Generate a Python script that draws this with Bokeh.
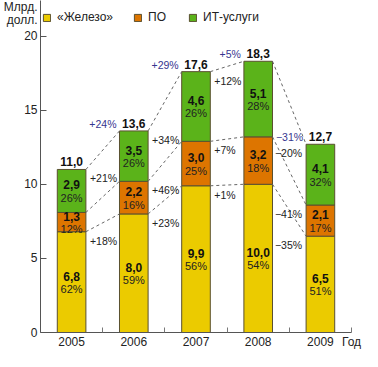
from bokeh.plotting import figure
from bokeh.models import ColumnDataSource, Range1d, FixedTicker, Legend, LegendItem
from bokeh.core.properties import value
from bokeh.embed import file_html
from bokeh.resources import INLINE

# ---- data ----
years = ["2005", "2006", "2007", "2008", "2009"]
hardware = [6.8, 8.0, 9.9, 10.0, 6.5]
software = [1.3, 2.2, 3.0, 3.2, 2.1]
it_services = [2.9, 3.5, 4.6, 5.1, 4.1]
totals = [11.0, 13.6, 17.6, 18.3, 12.7]
pct_hardware = [62, 59, 56, 54, 51]
pct_software = [12, 16, 25, 18, 17]
pct_it = [26, 26, 26, 28, 32]
# growth labels between consecutive years
growth_total = ["+24%", "+29%", "+5%", "\u221231%"]
growth_it = ["+21%", "+34%", "+12%", "\u221220%"]
growth_software = ["", "+46%", "+7%", "\u221241%"]
growth_hardware = ["+18%", "+23%", "+1%", "\u221235%"]
series_names = ["«Железо»", "ПО", "ИТ-услуги"]
y_ticks = [0, 5, 10, 15, 20]
unit_lines = ["Млрд.", "долл."]
x_axis_title = "Год"

# ---- styles ----
FONT = "Liberation Sans"
C_HW, C_PO, C_IT = "#EBCB00", "#DD7500", "#5BB31A"
EDGE = "#5a5030"
BLUE = "#363690"
W = 0.46
Y_END = 22.4
FRAME_H = 334  # expected frame height in px (351 - bottom border)
PX = Y_END / FRAME_H  # data units per pixel

n = len(years)
xs = list(range(n))
hw_top = hardware
po_top = [h + s for h, s in zip(hardware, software)]
it_top = totals

p = figure(width=362, height=351, output_backend="svg", toolbar_location=None,
           x_range=Range1d(-0.5, n - 0.5), y_range=Range1d(0, Y_END),
           min_border_left=36, min_border_right=11, min_border_top=0, min_border_bottom=17)
p.outline_line_color = None
p.xgrid.visible = False
p.ygrid.visible = False
p.background_fill_color = "white"

# bars
src = ColumnDataSource(dict(x=xs, hw=hw_top, po=po_top, it=it_top, zero=[0] * n))
r_hw = p.vbar(x="x", width=W, bottom="zero", top="hw", source=src, fill_color=C_HW, line_color=EDGE, line_width=1)
r_po = p.vbar(x="x", width=W, bottom="hw", top="po", source=src, fill_color=C_PO, line_color=EDGE, line_width=1)
r_it = p.vbar(x="x", width=W, bottom="po", top="it", source=src, fill_color=C_IT, line_color=EDGE, line_width=1)

# dashed connectors
x0, y0, x1, y1 = [], [], [], []
for tops in (hw_top, po_top, it_top):
    for i in range(n - 1):
        x0.append(i + W / 2); y0.append(tops[i])
        x1.append(i + 1 - W / 2); y1.append(tops[i + 1])
p.segment(x0=x0, y0=y0, x1=x1, y1=y1, line_color="#666666", line_width=1, line_dash="3 3")

fmt = lambda v: f"{v:.1f}".replace(".", ",")

# in-bar values and percentages
vx, vy, vt, pt = [], [], [], []
for i in range(n):
    segs = [(0, hw_top[i], hardware[i], pct_hardware[i]),
            (hw_top[i], po_top[i], software[i], pct_software[i]),
            (po_top[i], it_top[i], it_services[i], pct_it[i])]
    for b, t, v, pc in segs:
        vx.append(i); vy.append((b + t) / 2); vt.append(fmt(v)); pt.append(f"{pc}%")
p.text(x=vx, y=vy, text=vt, text_align="center", text_baseline="middle", y_offset=-6,
       text_font=value(FONT), text_font_size="12px", text_font_style="bold", text_color="#111111")
p.text(x=vx, y=vy, text=pt, text_align="center", text_baseline="middle", y_offset=7,
       text_font=value(FONT), text_font_size="11px", text_color="#222222")

# totals above bars
p.text(x=xs, y=totals, text=[fmt(t) for t in totals], text_align="center", text_baseline="bottom",
       y_offset=-3, text_font=value(FONT), text_font_size="12px", text_font_style="bold", text_color="#111111")

# growth labels per segment
gx_l, gy_l, gt_l, gx_r, gy_r, gt_r = [], [], [], [], [], []
for labels, tops in ((growth_it, it_top), (growth_software, po_top), (growth_hardware, hw_top)):
    for i, lab in enumerate(labels):
        if not lab:
            continue
        if lab.startswith("\u2212"):
            gx_r.append(i + 1 - W / 2); gy_r.append(tops[i + 1]); gt_r.append(lab)
        else:
            gx_l.append(i + W / 2); gy_l.append(tops[i]); gt_l.append(lab)
p.text(x=gx_l, y=gy_l, text=gt_l, text_align="left", text_baseline="top", x_offset=4, y_offset=3,
       text_font=value(FONT), text_font_size="10.5px", text_color="#222222")
p.text(x=gx_r, y=gy_r, text=gt_r, text_align="right", text_baseline="top", x_offset=-4, y_offset=3,
       text_font=value(FONT), text_font_size="10.5px", text_color="#222222")

# total growth (blue)
p.text(x=[i + 1 - W / 2 for i in range(n - 1)], y=totals[1:], text=growth_total,
       text_align="right", text_baseline="bottom", x_offset=-3, y_offset=-1,
       text_font=value(FONT), text_font_size="10.5px", text_color=BLUE)

# x axis: years at centres, "Год" at the axis end, small marks at category boundaries
x_end = n - 0.5
xa = p.xaxis[0]
xa.ticker = FixedTicker(ticks=xs + [x_end], minor_ticks=[i + 0.5 for i in range(n)])
overrides = {i: y for i, y in enumerate(years)}
overrides[x_end] = x_axis_title
xa.major_label_overrides = overrides
xa.major_tick_in = 0
xa.major_tick_out = 0
xa.minor_tick_in = 5
xa.minor_tick_out = 0
xa.minor_tick_line_color = "#777777"
xa.axis_line_color = "#555555"
xa.major_label_standoff = 2
xa.axis_label_standoff = 0
xa.major_label_text_font = FONT
xa.major_label_text_font_size = "12px"
xa.major_label_text_color = "#222222"

# y axis: numeric ticks plus the unit caption at the top
unit_pos = [round(Y_END - 7 * PX, 3), round(Y_END - 20 * PX, 3)]
ya = p.yaxis[0]
ya.ticker = FixedTicker(ticks=y_ticks + unit_pos, minor_ticks=y_ticks)
ya.major_label_overrides = {pos: txt for pos, txt in zip(unit_pos, unit_lines)}
ya.major_tick_in = 0
ya.major_tick_out = 0
ya.minor_tick_in = 6
ya.minor_tick_out = 0
ya.minor_tick_line_color = "#555555"
ya.axis_line_color = "#555555"
ya.major_label_standoff = 3
ya.axis_label_standoff = 0
ya.major_label_text_font = FONT
ya.major_label_text_font_size = "12px"
ya.major_label_text_color = "#222222"

legend = Legend(items=[LegendItem(label=series_names[0], renderers=[r_hw]),
                       LegendItem(label=series_names[1], renderers=[r_po]),
                       LegendItem(label=series_names[2], renderers=[r_it])],
                orientation="horizontal", location=(2, 308), padding=0, margin=0, spacing=20,
                glyph_width=9, glyph_height=9, label_standoff=6, label_height=12,
                label_text_font=FONT, label_text_font_size="12px", label_text_color="#222222",
                border_line_color=None, background_fill_alpha=0)
p.add_layout(legend, "center")

open("out.html", "w").write(file_html(p, INLINE))
